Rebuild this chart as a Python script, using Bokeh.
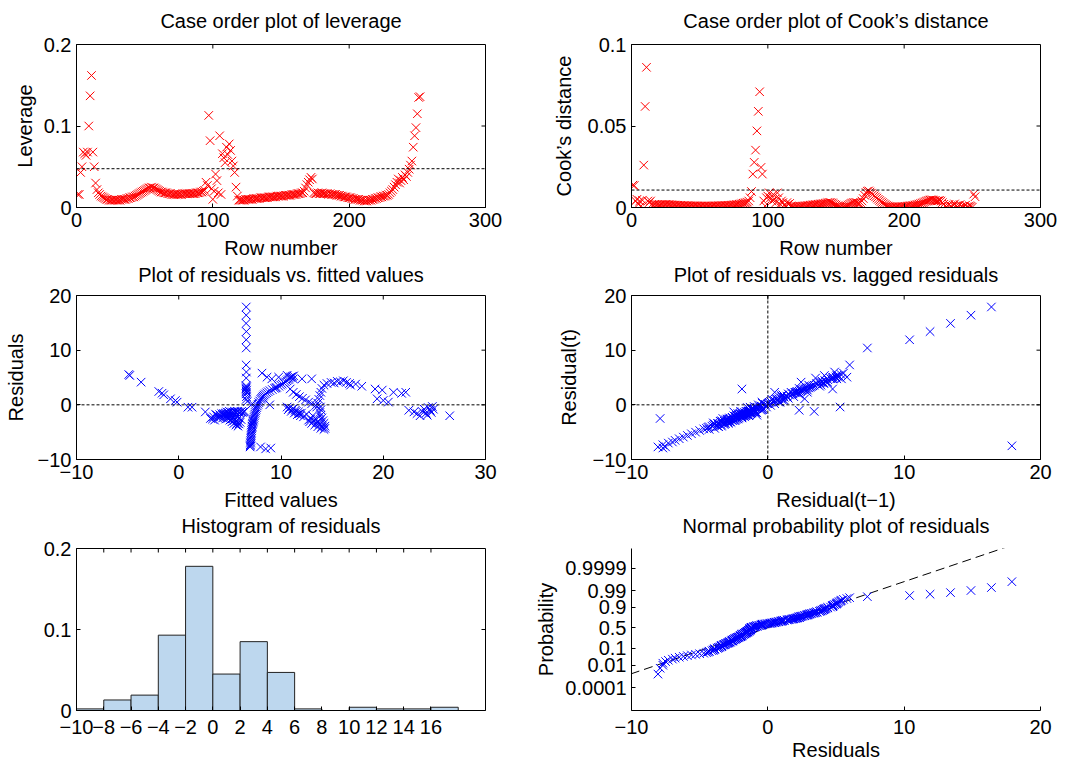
import numpy as np
from statistics import NormalDist
from bokeh.plotting import figure
from bokeh.layouts import row, column
from bokeh.models import FixedTicker, Span, Range1d
from bokeh.embed import file_html
from bokeh.resources import INLINE

FONT = "Liberation Sans"

# ---------------- data ----------------
leverage = [
    0.016, 0.016, 0.043, 0.050, 0.068, 0.066, 0.064, 0.068, 0.100, 0.137, 0.162, 0.068, 0.050, 0.030, 0.022, 0.018,
    0.016, 0.014, 0.013, 0.012, 0.011, 0.010, 0.010, 0.009, 0.009, 0.009, 0.009, 0.009, 0.009, 0.009,
    0.009, 0.009, 0.010, 0.010, 0.010, 0.010, 0.011, 0.011, 0.012, 0.012,
    0.013, 0.013, 0.014, 0.015, 0.016, 0.017, 0.018, 0.019, 0.020, 0.021, 0.022, 0.023, 0.024, 0.024, 0.025,
    0.024, 0.024, 0.023, 0.022, 0.021, 0.020, 0.019, 0.019, 0.018, 0.018,
    0.018, 0.017, 0.017, 0.017, 0.016, 0.016, 0.016, 0.016, 0.016, 0.016, 0.016, 0.016, 0.017, 0.017, 0.017,
    0.017, 0.017, 0.017, 0.017, 0.017,
    0.017, 0.017, 0.018, 0.018, 0.018, 0.019, 0.019, 0.020, 0.021,
    0.031, 0.027, 0.113, 0.082, 0.023, 0.010, 0.020, 0.041, 0.033, 0.018, 0.088, 0.016, 0.066, 0.061, 0.055,
    0.074, 0.065, 0.078, 0.070, 0.057, 0.051, 0.043, 0.025, 0.014, 0.009,
    0.009, 0.009, 0.009, 0.009, 0.010, 0.010, 0.010, 0.010, 0.010, 0.010,
    0.011, 0.011, 0.011, 0.011, 0.011, 0.012, 0.012, 0.012, 0.012, 0.012,
    0.012, 0.013, 0.013, 0.013, 0.013, 0.013, 0.013, 0.014, 0.014, 0.014,
    0.014, 0.014, 0.014, 0.015, 0.015, 0.015, 0.015, 0.015, 0.016, 0.016,
    0.016, 0.016, 0.017, 0.017, 0.017, 0.018,
    0.018, 0.020, 0.024, 0.028, 0.031, 0.034, 0.037, 0.035,
    0.018, 0.017, 0.017, 0.018, 0.017, 0.017, 0.018, 0.017, 0.017, 0.017, 0.017, 0.016, 0.017, 0.016, 0.016,
    0.016, 0.016,
    0.015, 0.015, 0.015, 0.014, 0.014, 0.013, 0.013, 0.013, 0.012, 0.012, 0.012, 0.011, 0.011, 0.010, 0.010,
    0.010, 0.010, 0.009, 0.009, 0.009, 0.008, 0.008, 0.008, 0.009, 0.009,
    0.009, 0.010, 0.010, 0.011, 0.011, 0.012, 0.012, 0.013, 0.013, 0.014, 0.014, 0.015, 0.015,
    0.016, 0.018, 0.020, 0.022, 0.025, 0.028, 0.031, 0.035, 0.030, 0.033, 0.037, 0.034, 0.040, 0.038, 0.043,
    0.047, 0.052,
    0.057, 0.074, 0.088, 0.098, 0.115, 0.135, 0.136,
]

cooks = [
    0.0137, 0.0135, 0.004, 0.005, 0.002, 0.004, 0.001, 0.0045, 0.026, 0.062, 0.086, 0.004, 0.003, 0.004, 0.002, 0.0015,
    0.0020, 0.0018, 0.0017, 0.0016, 0.0016, 0.0017, 0.0018, 0.0018, 0.0019, 0.0019, 0.0018, 0.0018, 0.0017, 0.0016,
    0.0015, 0.0015, 0.0014, 0.0014, 0.0013, 0.0013, 0.0012, 0.0012, 0.0012, 0.0011,
    0.0011, 0.0011, 0.0010, 0.0010, 0.0010, 0.0010, 0.0010, 0.0010, 0.0009, 0.0009, 0.0009, 0.0009, 0.0009, 0.0009,
    0.0009, 0.0009, 0.0009, 0.0009, 0.0009, 0.0010, 0.0010, 0.0010, 0.0010, 0.0011, 0.0011, 0.0011, 0.0012, 0.0012,
    0.0012, 0.0013,
    0.0013, 0.0014, 0.0014, 0.0015, 0.0016, 0.0017, 0.0018, 0.0019, 0.0020, 0.0022, 0.0024, 0.0026, 0.0028, 0.0030,
    0.0033, 0.0040, 0.0060,
    0.0098, 0.0205, 0.0277, 0.0352, 0.047, 0.059, 0.071, 0.0246, 0.0205, 0.0040,
    0.001, 0.006, 0.007, 0.009, 0.006, 0.004, 0.008, 0.005, 0.003, 0.009, 0.006, 0.002, 0.004,
    0.003, 0.0015, 0.001, 0.003, 0.002, 0.0025, 0.001, 0.0008, 0.0006, 0.0006, 0.0005, 0.0005, 0.0006, 0.0007, 0.0008,
    0.0009, 0.0010, 0.0011, 0.0012, 0.0013, 0.0014, 0.0015, 0.0016, 0.0017, 0.0018, 0.0019, 0.0020, 0.0021, 0.0022,
    0.0023, 0.0024, 0.0026, 0.0028, 0.0030, 0.0031, 0.0030, 0.0028, 0.0025, 0.0020, 0.0015,
    0.0010, 0.0006, 0.0003, 0.0002, 0.0002, 0.0003, 0.0006, 0.0010, 0.0015, 0.0020, 0.0025, 0.0028, 0.0030, 0.0031,
    0.0030, 0.0028, 0.0025, 0.0030, 0.0040, 0.0055, 0.0075,
    0.0092, 0.0100, 0.0102, 0.0095, 0.0088, 0.0080, 0.0072, 0.0065, 0.0058, 0.0050, 0.0043, 0.0036, 0.0030, 0.0024,
    0.0018, 0.0013, 0.0009, 0.0006, 0.0004,
    0.0003, 0.0003, 0.0003, 0.0003, 0.0004, 0.0004, 0.0005, 0.0005, 0.0006, 0.0006, 0.0007, 0.0008, 0.0009, 0.0010,
    0.0011, 0.0012, 0.0013, 0.0015, 0.0017, 0.0019, 0.0021, 0.0024,
    0.0027, 0.0030, 0.0034, 0.0038, 0.0041, 0.0044, 0.0046, 0.0047, 0.0046, 0.0044, 0.0042, 0.0040, 0.0041, 0.0043,
    0.0039, 0.0030, 0.0020, 0.0010,
    0.0005, 0.0012, 0.0020, 0.0008, 0.0003, 0.0015, 0.0022, 0.0010, 0.0004, 0.0012, 0.0018, 0.0006, 0.0002, 0.0009,
    0.0014, 0.0005, 0.0003, 0.0011, 0.0007, 0.0002, 0.0082, 0.0066,
]

fitted = [
    8.5, 8.0, 9.0, 3.1, 2.6, 1.3, 0.9, -0.16, -0.33, -0.81, -1.47, -1.63, -1.95, -3.68, -4.79, -4.89,
    8.14, 8.63, 9.1, 9.77, 10.6, 11.2, 12.05, 13.0,
    10.9, 11.2, 11.5, 11.8, 12.1, 12.4, 12.7, 13.0, 13.4, 13.85,
    13.9, 13.8, 13.9, 14.0, 14.1, 14.2, 14.3, 14.3, 14.2, 13.9, 13.6, 13.3, 13.0, 12.8, 12.7, 12.9, 13.2, 13.5,
    13.8, 14.0, 13.7, 13.4, 13.1,
    12.5, 12.0, 11.7, 11.4, 11.1, 10.8, 10.6, 10.7, 11.0, 11.3, 11.6, 11.9, 12.2, 11.8, 11.5, 11.2,
    8.9, 7.2, 6.7, 6.60, 6.62, 6.58, 6.61, 6.59, 6.63, 6.57, 6.60, 6.62, 6.58, 6.60, 6.61, 6.59, 6.60, 6.60,
    6.61, 6.59, 6.60, 6.60,
    7.00, 6.98, 7.00, 7.02, 7.02, 7.04, 7.05, 7.06, 7.08, 7.09, 7.10, 7.12, 7.14, 7.16, 7.18, 7.20, 7.22, 7.25,
    7.27, 7.30, 7.33, 7.37,
    7.40, 7.44, 7.48, 7.52, 7.57, 7.62, 7.68, 7.75, 7.83, 7.92, 8.02, 8.10, 8.18, 8.26, 8.35, 8.47, 8.60, 8.75,
    8.92, 9.15, 9.38, 9.48, 9.58, 9.80, 9.98, 10.12, 10.28, 10.44, 10.58, 10.70, 10.80, 10.90, 11.00, 11.10, 11.24,
    13.5, 13.6, 13.7, 13.8, 13.9, 14.0, 14.2, 14.5, 14.9, 15.2, 15.5, 15.8, 16.1, 16.4, 16.7, 16.8, 17.3, 17.9,
    6.45, 6.35, 6.25, 6.15, 6.05, 5.95, 5.85, 5.75, 5.65, 5.55, 5.45, 5.35, 5.25, 5.15, 5.05, 4.95, 4.85, 4.70,
    4.55, 4.40,
    4.2, 4.0, 3.8, 3.6, 3.4, 3.3, 3.5, 3.8, 4.1, 4.4, 4.6, 4.8, 5.0, 5.2, 5.4, 5.6, 5.8, 5.9, 5.7, 5.5,
    5.3, 5.1, 4.9, 4.7, 4.5, 4.7, 5.0, 5.3, 5.6, 5.9, 6.1, 6.0, 5.7, 5.4, 5.2, 4.9, 4.6, 4.3, 4.0, 3.7,
    19.2, 19.9, 19.4, 20.0, 20.5, 21.0, 21.8, 22.2, 22.5, 23.0, 23.3, 23.6, 23.8, 24.0, 24.2, 24.4, 24.6, 24.8,
    24.9, 24.3, 24.7, 26.5,
]

residuals = [
    -8.06, -7.7, -7.9, -2.5, -1.3, -0.43, -0.43, 0.49, 0.79, 1.10, 1.83, 2.13, 2.44, 4.15, 5.37, 5.55,
    5.8, 5.06, 4.75, 5.06, 5.4, 4.75, 4.75, 4.75,
    2.9, 2.3, 1.9, 1.5, 1.2, 0.9, 0.5, 0.2, -0.1, -0.4,
    -0.9, -1.4, -1.9, -2.4, -2.9, -3.4, -3.9, -4.3, -4.5, -4.3, -4.0, -3.7, -3.4, -3.1, -2.8, -2.6, -2.9, -3.2,
    -3.6, -4.0, -3.3, -2.5, -2.0,
    -1.7, -1.5, -1.3, -1.0, -0.8, -0.6, -0.4, -0.9, -1.2, -1.5, -1.8, -2.0, -2.2, -1.6, -1.2, -0.7,
    0.0, 0.2, 0.6, 1.0, 1.5, 2.0, 2.3, 2.5, 2.7, 2.9, 3.1, 3.3, 3.5, 4.9, 6.0, 7.3, 10.4, 11.9, 13.4, 14.9,
    16.4, 17.9,
    -7.5, -7.7, -7.3, -7.0, -6.8, -6.5, -6.2, -5.9, -5.6, -5.3, -5.0, -4.7, -4.4, -4.1, -3.9, -3.6, -3.4, -3.2,
    -3.0, -2.8, -2.6, -2.3,
    -2.0, -1.7, -1.4, -1.1, -0.8, -0.5, -0.2, 0.1, 0.4, 0.7, 1.0, 1.2, 1.4, 1.6, 1.8, 2.0, 2.2, 2.4, 2.6, 2.8,
    3.0, 3.1, 3.2, 3.4, 3.6, 3.8, 4.0, 4.2, 4.4, 4.6, 4.8, 5.0, 5.1, 5.2, 5.3,
    -0.4, 0.3, 1.0, 1.7, 2.3, 3.0, 3.6, 3.9, 4.1, 4.0, 4.3, 4.2, 4.4, 4.1, 3.9, 3.6, 3.8, 3.4,
    -1.2, -1.3, -1.4, -1.2, -1.3, -1.5, -1.3, -1.2, -1.4, -1.3, -1.2, -1.4, -1.3, -1.5, -1.3, -1.2, -1.4, -1.3,
    -1.5, -1.6,
    -1.6, -1.8, -2.0, -1.7, -2.2, -2.6, -2.8, -2.4, -2.1, -1.9, -2.2, -2.5, -2.8, -3.1, -3.4, -3.7, -3.9, -3.5,
    -3.0, -2.6, -2.3, -2.0, -1.8, -1.6, -1.7, -1.9, -1.7, -1.9, -2.1, -2.4, -2.7, -3.2, -3.4, -2.9, -2.6, -2.3,
    -2.6, -2.4, -2.2, -1.9,
    2.9, 2.7, 1.1, 0.8, 0.5, 2.3, 2.1, 2.3, -1.0, -1.3, -1.6, -2.0, -1.2, -0.8, -1.5, -0.5, -1.0, -0.3, -0.8,
    -1.9, -1.4, -2.0,
]

hist_edges = [-10, -8, -6, -4, -2, 0, 2, 4, 6, 8, 10, 12, 14, 16, 18]
hist_density = [0.002, 0.013, 0.019, 0.093, 0.178, 0.045, 0.085, 0.047, 0.002, 0.0, 0.004, 0.002, 0.002, 0.004]

leverage_ref = 0.0476
cooks_ref = 0.0107
prob_ticks = [0.0001, 0.01, 0.1, 0.5, 0.9, 0.99, 0.9999]
prob_labels = ["0.0001", "0.01", "0.1", "0.5", "0.9", "0.99", "0.9999"]

RED = "#ff0000"
BLUE = "#0000ff"
MSIZE = 12


def fmt(v):
    return f"{v:g}".replace("-", "\u2212")


def base_fig(w, h, left, right, top, bottom, xr, yr, title, standoff, box=True):
    p = figure(width=w, height=h, x_range=Range1d(*xr), y_range=Range1d(*yr),
               output_backend="svg", toolbar_location=None,
               min_border_left=left, min_border_right=right,
               min_border_top=top, min_border_bottom=bottom)
    p.title.text = title
    p.title.align = "center"
    p.title.text_font = FONT
    p.title.text_font_size = "20px"
    p.title.text_font_style = "normal"
    p.title.text_color = "black"
    p.title.standoff = standoff
    p.grid.visible = False
    p.background_fill_color = "white"
    p.border_fill_color = None
    if box:
        p.outline_line_color = "black"
        p.outline_line_alpha = 1.0
        p.outline_line_width = 1
    else:
        p.outline_line_color = None
    return p


def style_axis(ax, ticks, labels=None, label=None, label_standoff=4, tick_standoff=5):
    ax.ticker = FixedTicker(ticks=ticks)
    if labels is None:
        labels = [fmt(t) for t in ticks]
    ax.major_label_overrides = {t: l for t, l in zip(ticks, labels)}
    ax.axis_line_color = "black"
    ax.major_tick_in = 4
    ax.major_tick_out = 0
    ax.major_tick_line_color = "black"
    ax.minor_tick_line_color = None
    ax.major_label_text_font = FONT
    ax.major_label_text_font_size = "20px"
    ax.major_label_text_color = "black"
    ax.major_label_standoff = tick_standoff
    if label:
        ax.axis_label = label
        ax.axis_label_text_font = FONT
        ax.axis_label_text_font_size = "20px"
        ax.axis_label_text_font_style = "normal"
        ax.axis_label_text_color = "black"
        ax.axis_label_standoff = label_standoff


def mirror_ticks(p, xticks, yticks, xr, yr):
    # inward tick marks on the top and right edges of the box
    p.scatter(xticks, [yr[1]] * len(xticks), marker="dash", angle=np.pi / 2, size=8,
              line_color="black", line_width=1)
    p.scatter([xr[1]] * len(yticks), yticks, marker="dash", size=8,
              line_color="black", line_width=1)


def dotted(p, loc, dim):
    p.add_layout(Span(location=loc, dimension=dim, line_color="black",
                      line_dash="3 2", line_width=1))


# ---- panel 1: leverage ----  (canvas -8..267, frame 44..207)
xr1, yr1 = (0, 300), (0, 0.2)
p1 = base_fig(540, 275, 76, 55, 52, 60, xr1, yr1, "Case order plot of leverage", 26)
style_axis(p1.xaxis[0], [0, 100, 200, 300], label="Row number", label_standoff=7)
style_axis(p1.yaxis[0], [0, 0.1, 0.2], label="Leverage", label_standoff=5)
mirror_ticks(p1, [100, 200], [0.1], xr1, yr1)
dotted(p1, leverage_ref, "width")
p1.scatter(np.arange(1, len(leverage) + 1), leverage, marker="x", size=MSIZE, line_color=RED, line_width=1)

# ---- panel 2: Cook's distance ----
xr2, yr2 = (0, 300), (0, 0.1)
p2 = base_fig(540, 275, 91, 40, 52, 60, xr2, yr2, "Case order plot of Cook\u2019s distance", 26)
style_axis(p2.xaxis[0], [0, 100, 200, 300], label="Row number", label_standoff=7)
style_axis(p2.yaxis[0], [0, 0.05, 0.1], label="Cook\u2019s distance", label_standoff=10)
mirror_ticks(p2, [100, 200], [0.05], xr2, yr2)
dotted(p2, cooks_ref, "width")
p2.scatter(np.arange(1, len(cooks) + 1), cooks, marker="x", size=MSIZE, line_color=RED, line_width=1)

# ---- panel 3: residuals vs fitted ----  (canvas 247..519, frame 295..459)
xr3, yr3 = (-10, 30), (-10, 20)
p3 = base_fig(540, 272, 76, 55, 48, 60, xr3, yr3, "Plot of residuals vs. fitted values", 20)
style_axis(p3.xaxis[0], [-10, 0, 10, 20, 30], label="Fitted values", label_standoff=7)
style_axis(p3.yaxis[0], [-10, 0, 10, 20], label="Residuals", label_standoff=8)
mirror_ticks(p3, [0, 10, 20], [0, 10], xr3, yr3)
dotted(p3, 0, "width")
p3.scatter(fitted, residuals, marker="x", size=MSIZE, line_color=BLUE, line_width=1)

# ---- panel 4: residuals vs lagged residuals ----
lag_x = residuals[:-1]
lag_y = residuals[1:]
xr4, yr4 = (-10, 20), (-10, 20)
p4 = base_fig(540, 272, 91, 40, 48, 60, xr4, yr4, "Plot of residuals vs. lagged residuals", 20)
style_axis(p4.xaxis[0], [-10, 0, 10, 20], label="Residual(t\u22121)", label_standoff=7)
style_axis(p4.yaxis[0], [-10, 0, 10, 20], label="Residual(t)", label_standoff=10)
mirror_ticks(p4, [0, 10], [0, 10], xr4, yr4)
dotted(p4, 0, "width")
dotted(p4, 0, "height")
p4.scatter(lag_x, lag_y, marker="x", size=MSIZE, line_color=BLUE, line_width=1)

# ---- panel 5: histogram ----  (canvas 498..770, frame 548..710)
hist_ticks = list(range(-10, 17, 2))
xr5, yr5 = (-10, 20), (0, 0.2)
p5 = base_fig(540, 272, 76, 55, 50, 60, xr5, yr5, "Histogram of residuals", 23)
p5.margin = (0, 0, -8, 0)
style_axis(p5.xaxis[0], hist_ticks, tick_standoff=9)
style_axis(p5.yaxis[0], [0, 0.1, 0.2])
p5.quad(left=hist_edges[:-1], right=hist_edges[1:], top=hist_density, bottom=0,
        fill_color="#bdd7ee", line_color="#222222", line_width=1)
mirror_ticks(p5, hist_ticks[1:], [0.1], xr5, yr5)

# ---- panel 6: normal probability plot ----
nd = NormalDist()
sorted_res = np.sort(np.array(residuals))
n = len(sorted_res)
z_pos = [nd.inv_cdf((i - 0.5) / n) for i in range(1, n + 1)]
q1, q3 = np.percentile(sorted_res, [25, 75])
z1, z3 = nd.inv_cdf(0.25), nd.inv_cdf(0.75)
slope = (z3 - z1) / (q3 - q1)
xr6, yr6 = (-10, 20), (-5.15, 4.95)
line_x = [xr6[0] - 2, xr6[1] + 2]
line_y = [z1 + slope * (x - q1) for x in line_x]
prob_z = [nd.inv_cdf(pv) for pv in prob_ticks]

p6 = base_fig(560, 272, 111, 40, 50, 60, xr6, yr6, "Normal probability plot of residuals", 23, box=False)
p6.margin = (0, 0, -8, -20)
style_axis(p6.xaxis[0], [-10, 0, 10, 20], label="Residuals", label_standoff=2, tick_standoff=9)
style_axis(p6.yaxis[0], prob_z, labels=prob_labels, label="Probability", label_standoff=5)
p6.line(line_x, line_y, line_color="black", line_dash="9 5", line_width=1)
p6.scatter(sorted_res, z_pos, marker="x", size=MSIZE, line_color=BLUE, line_width=1)

layout = column(
    row(p1, p2, margin=(-8, 0, 0, 0)),
    row(p3, p4, margin=(-20, 0, 0, 0)),
    row(p5, p6, margin=(-21, 0, 0, 0)),
)
open("out.html", "w").write(file_html(layout, INLINE))
